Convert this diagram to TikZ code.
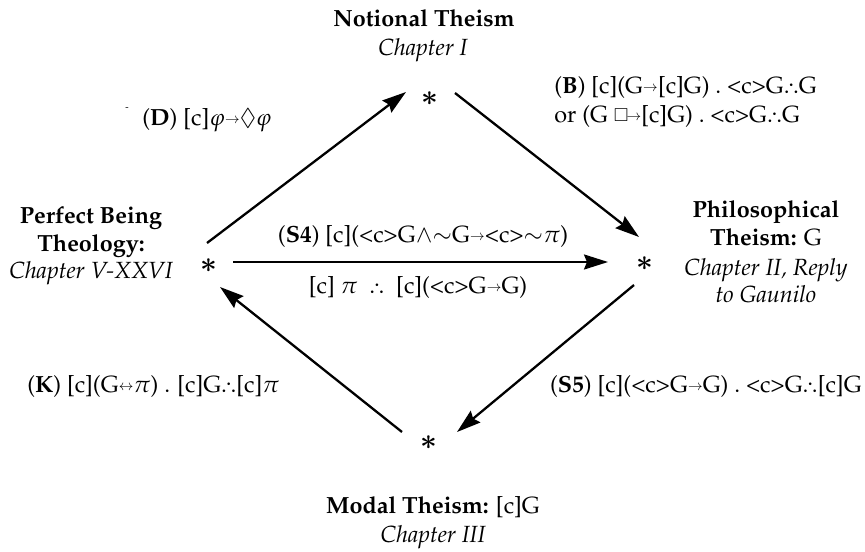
\documentclass[tikz,border=0pt]{standalone}
\usepackage[T1]{fontenc}
\usepackage{mathpazo}
\usepackage{amssymb}
\usetikzlibrary{arrows.meta}
\newcommand{\sra}{\raisebox{.12ex}{\scriptsize$\rightarrow$}}
\newcommand{\slra}{\raisebox{.12ex}{\scriptsize$\leftrightarrow$}}
\newcommand{\bx}{\raisebox{.05ex}{\small$\square$}}
\newcommand{\tf}{\mbox{.\kern-0.6pt\raisebox{0.55ex}{.}\kern-0.6pt.}}
\newcommand{\dm}{$\lozenge$}
\newcommand{\cc}{\textless c\textgreater}
\begin{document}
\begin{tikzpicture}[x=0.5pt,y=-0.5pt,
  every node/.style={inner sep=0pt, font=\fontsize{11.7}{14}\selectfont},
  lbl/.style={anchor=base},
  lblw/.style={anchor=base west},
  lble/.style={anchor=base east},
  star/.style={font=\fontsize{14}{14}\selectfont\boldmath},
  conn/.style={line width=1.15pt, -{Stealth[length=12pt,width=7.5pt,inset=1.5pt]}}]
\useasboundingbox (0,0) rectangle (865,551);

% stars
\node[star] (T) at (430,99) {$\ast$};
\node[star] (L) at (209,266) {$\ast$};
\node[star] (R) at (645,264) {$\ast$};
\node[star] (B) at (429,443) {$\ast$};

% connector end points
\coordinate (LTs) at (207,243);
\coordinate (LTe) at (406,92);
\coordinate (TRs) at (455,93);
\coordinate (TRe) at (639,237);
\coordinate (LRs) at (233,262);
\coordinate (LRe) at (608,262);
\coordinate (RBs) at (634,285);
\coordinate (RBe) at (457,432);
\coordinate (BLs) at (402,432);
\coordinate (BLe) at (220,287);

\draw[conn] (LTs) -- (LTe);
\draw[conn] (TRs) -- (TRe);
\draw[conn] (LRs) -- (LRe);
\draw[conn] (RBs) -- (RBe);
\draw[conn] (BLs) -- (BLe);

% titles
\node[lbl] (nt1) at (424,27) {\bfseries Notional Theism};
\node[lbl] (nt2) at (423,55) {\itshape Chapter I};

\node[lbl] (pb1) at (91,223) {\bfseries Perfect Being};
\node[lbl] (pb2) at (91,251) {\bfseries Theology:};
\node[lbl] (pb3) at (91,278) {\itshape Chapter V-XXVI};

\node[lbl] (pt1) at (766,217) {\bfseries Philosophical};
\node[lbl] (pt2) at (766,245) {\textbf{Theism:} G};
\node[lbl] (pt3) at (766,275) {\itshape Chapter II, Reply};
\node[lbl] (pt4) at (766,302) {\itshape to Gaunilo};

\node[lbl] (mt1) at (433,513) {\textbf{Modal Theism:} [c]G};
\node[lbl] (mt2) at (433,542) {\itshape Chapter III};

% rule labels
\node[lbl, font=\tiny] (dmark) at (127,111) {-};
\node[lblw] (D) at (142,125) {(\textbf{D}) [c]$\varphi$\sra\dm$\varphi$};
\node[lblw] (B1) at (554,93) {(\textbf{B}) [c](G\sra[c]G) . \cc G\tf G};
\node[lblw] (B2) at (554,122) {or (G \bx\kern-1pt\sra[c]G) . \cc G\tf G};
\node[lbl] (S4) at (423,242) {(\textbf{S4}) [c](\cc G$\wedge$$\sim$G\sra\cc$\sim$$\pi$)};
\node[lbl] (PI) at (418,293) {[c] $\pi$ \ \tf\ \ [c](\cc G\sra G)};
\node[lblw] (K) at (27,392) {(\textbf{K}) [c](G\slra$\pi$) . [c]G\tf[c]$\pi$};
\node[lble] (S5) at (862,392) {(\textbf{S5}) [c](\cc G\sra G) . \cc G\tf[c]G};
\end{tikzpicture}
\end{document}
